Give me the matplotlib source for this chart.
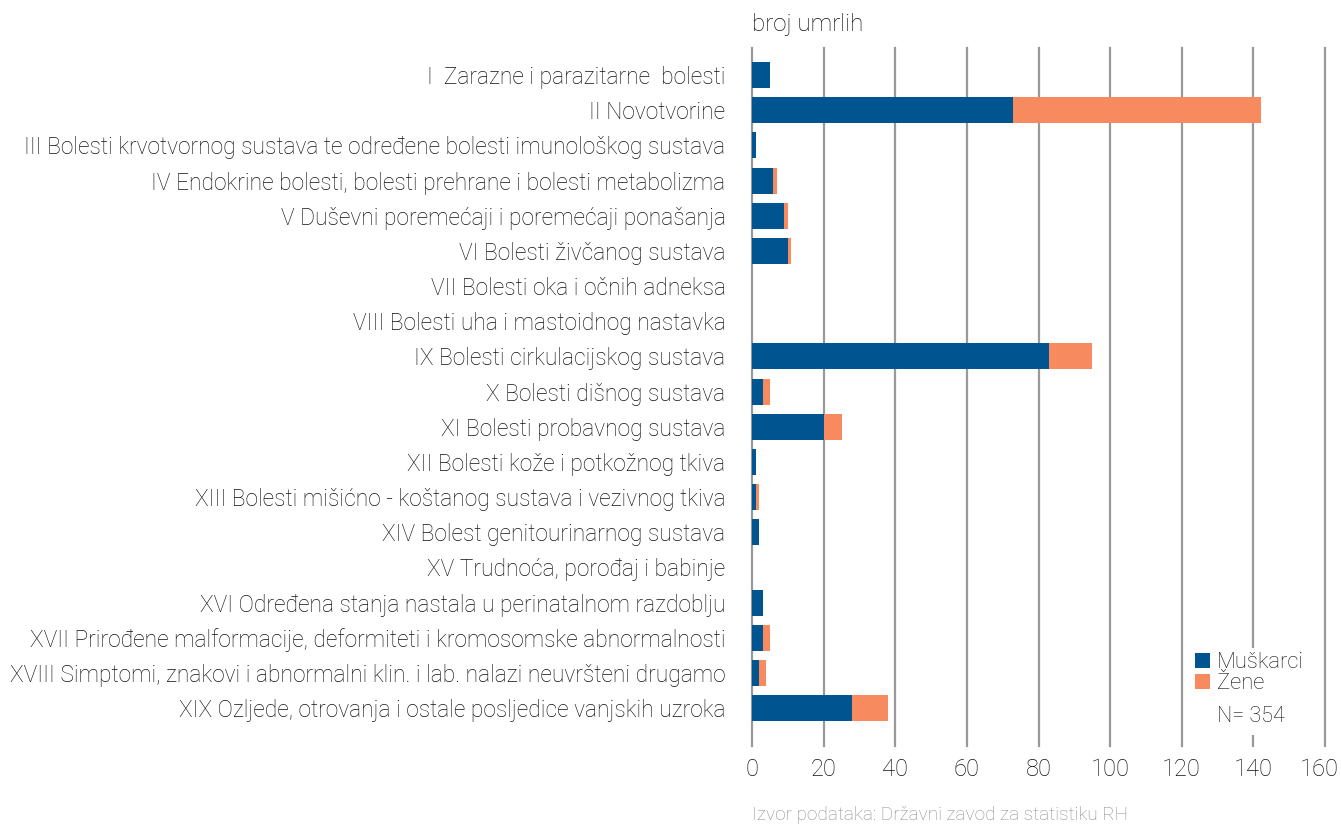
import matplotlib.pyplot as plt
import matplotlib.transforms as mtransforms
from matplotlib.patches import Rectangle
import numpy as np

plt.rcParams['font.family'] = ['Roboto', 'DejaVu Sans']

categories = [
    "I  Zarazne i parazitarne  bolesti",
    "II Novotvorine",
    "III Bolesti krvotvornog sustava te određene bolesti imunološkog sustava",
    "IV Endokrine bolesti, bolesti prehrane i bolesti metabolizma",
    "V Duševni poremećaji i poremećaji ponašanja",
    "VI Bolesti živčanog sustava",
    "VII Bolesti oka i očnih adneksa",
    "VIII Bolesti uha i mastoidnog nastavka",
    "IX Bolesti cirkulacijskog sustava",
    "X Bolesti dišnog sustava",
    "XI Bolesti probavnog sustava",
    "XII Bolesti kože i potkožnog tkiva",
    "XIII Bolesti mišićno - koštanog sustava i vezivnog tkiva",
    "XIV Bolest genitourinarnog sustava",
    "XV Trudnoća, porođaj i babinje",
    "XVI Određena stanja nastala u perinatalnom razdoblju",
    "XVII Prirođene malformacije, deformiteti i kromosomske abnormalnosti",
    "XVIII Simptomi, znakovi i abnormalni klin. i lab. nalazi neuvršteni drugamo",
    "XIX Ozljede, otrovanja i ostale posljedice vanjskih uzroka",
]
muskarci = [5, 73, 1, 6, 9, 10, 0, 0, 83, 3, 20, 1, 1, 2, 0, 3, 3, 2, 28]
zene = [0, 69, 0, 1, 1, 1, 0, 0, 12, 2, 5, 0, 1, 0, 0, 0, 2, 2, 10]
xticks = [0, 20, 40, 60, 80, 100, 120, 140, 160]

blue = "#00548f"
orange = "#f78a5f"
txtcol = "#111111"

fig = plt.figure(figsize=(13.41, 8.26), dpi=100)
ax = fig.add_axes([752 / 1341, 1 - 746 / 826, (1325 - 752) / 1341, (746 - 48) / 826])

y = np.arange(len(categories))
ax.barh(y, muskarci, height=0.74, color=blue, label="Muškarci", zorder=3)
ax.barh(y, zene, left=muskarci, height=0.74, color=orange, label="Žene", zorder=3)

ax.set_xlim(0, 160)
ax.set_ylim(len(categories) - 1 + 1.08, -0.77)
ax.set_xticks(xticks)
ax.set_yticks(y)
ax.set_yticklabels(categories, fontsize=16.4, fontweight="light", color=txtcol)
ax.tick_params(axis="y", length=0, pad=19)
ax.tick_params(axis="x", length=0, pad=9, labelsize=17, labelcolor=txtcol)
for lab in ax.get_xticklabels():
    lab.set_fontweight("light")
# last tick label sits a little left of its gridline, like in the original
last = ax.get_xticklabels()[-1]
last.set_transform(last.get_transform() + mtransforms.ScaledTranslation(-6 / 100, 0, fig.dpi_scale_trans))

for s in ax.spines.values():
    s.set_visible(False)
for t in xticks:
    ax.axvline(t, color="#999999", linewidth=1.6, zorder=1, clip_on=False)

# white box behind legend hides the gridline
ax.add_patch(Rectangle((0.764, 0.016), 0.218, 0.125, transform=ax.transAxes,
                       facecolor="white", edgecolor="none", zorder=2))

leg = ax.legend(loc="upper left", bbox_to_anchor=(0.773, 0.134), frameon=False,
                handlelength=0.7, handleheight=0.7, handletextpad=0.3,
                labelspacing=0.0, borderpad=0, borderaxespad=0, fontsize=15.8)
leg.set_zorder(4)
for txt in leg.get_texts():
    txt.set_fontweight("light")
    txt.set_color(txtcol)

fig.text(1217 / 1341, 1 - 716 / 826, "N= 354", fontsize=15.5, fontweight="light",
         color=txtcol, va="center", ha="left")
fig.text(752 / 1341, 1 - 25 / 826, "broj umrlih", fontsize=17.4, fontweight="light",
         color=txtcol, va="center", ha="left")
fig.text(752 / 1341, 1 - 815 / 826, "Izvor podataka: Državni zavod za statistiku RH",
         fontsize=13.7, fontweight="light", color="#8c8c8c", va="center", ha="left")

fig.savefig("out.png", dpi=100)
